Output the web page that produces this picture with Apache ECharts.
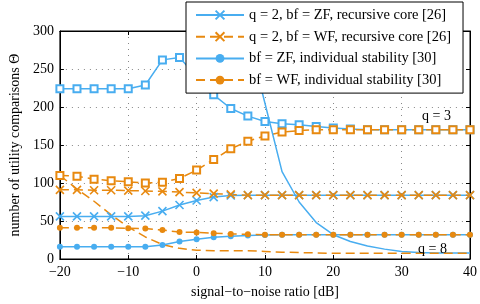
<!DOCTYPE html>
<html>
<head>
<meta charset="utf-8">
<script src="https://cdn.jsdelivr.net/npm/echarts@6/dist/echarts.min.js"></script>
<style>html,body{margin:0;padding:0;background:#fff}#c{width:480px;height:304px}</style>
</head>
<body>
<div id="c"></div>
<script>
var snr = [-20,-17.5,-15,-12.5,-10,-7.5,-5,-2.5,0,2.5,5,7.5,10,12.5,15,17.5,20,22.5,25,27.5,30,32.5,35,37.5,40];
var zfRecursive = [56,56,56,56,56,57,63,71,77,81.5,83.5,84,84,84,84,84,84,84,84,84,84,84,84,84,84];
var wfRecursive = [91,91,90.5,90.5,90,89.5,89,88,87,86,85,84,84,84,84,84,84,84,84,84,84,84,84,84,84];
var zfIndividual = [16,16,16,16,16,16,18.5,23,26,28.5,30,31,31.5,32,32,32,32,32,32,32,32,32,32,32,32];
var wfIndividual = [41,41,41,41,40.5,40,38,35.5,35,34,33,32.5,32,32,32,32,32,32,32,32,32,32,32,32,32];
var zfQ3 = [224,224,224,224,224,229,262,265,240,216,198,188,181,178,176.5,174.5,172.5,171,170,170,170,170,170,170,170];
var wfQ3 = [110,109,105,103,101.5,100,101,106,117,131,145,155,162,167,169,170,170,170,170,170,170,170,170,170,170];
var zfQ8 = [null,null,null,null,null,null,null,null,null,null,390,295,205,115,75,48,32,23,17,13,10,8.5,8,8,8];
var wfQ8 = [110,92,76,58,42,29,19,14,11.5,11,11,11,10,9,8.5,8,7.5,7.5,7.5,7.5,7.5,7.5,7.5,7.5,7.5];
var legendNames = ['q = 2, bf = ZF, recursive core [26]','q = 2, bf = WF, recursive core [26]','bf = ZF, individual stability [30]','bf = WF, individual stability [30]'];
var xTicks = [-20,-10,0,10,20,30,40];
var yTicks = [0,50,100,150,200,250,300];

var BLUE = '#48adf0', ORANGE = '#e8890f';
var FONT = 'Liberation Serif';
var CROSS = 'path://M0,0L10,10M10,0L0,10';

function pairs(arr){ return snr.map(function(x,i){ return [x, arr[i]]; }); }
function mk(name, data, color, dashed, symbol, size){
  return {
    name: name, type: 'line', data: pairs(data), clip: true,
    symbol: symbol, symbolSize: size, showSymbol: symbol !== 'none',
    connectNulls: false,
    lineStyle: {color: color, width: 1.5, type: dashed ? [9,5] : 'solid'},
    itemStyle: symbol === CROSS ? {color: color, borderColor: color, borderWidth: 1.6}
             : symbol === 'emptyRect' ? {color: color, borderColor: color, borderWidth: 1.5}
             : {color: color},
    emphasis: {disabled: true}, animation: false, z: 3
  };
}
function minus(v){ return String(v).replace('-', '\u2212'); }

var chart = echarts.init(document.getElementById('c'), null, {renderer: 'canvas'});
chart.setOption({
  animation: false,
  backgroundColor: '#fff',
  grid: {left: 52, right: 9, top: 31, bottom: 40, show: true, borderColor: '#000', borderWidth: 1, backgroundColor: 'transparent'},
  legend: {
    data: legendNames, orient: 'vertical', left: 186, top: 2,
    backgroundColor: '#fff', borderColor: '#000', borderWidth: 1,
    padding: [5, 12, 5, 9], itemWidth: 48, itemHeight: 11, itemGap: 5.7,
    textStyle: {fontFamily: FONT, fontSize: 14.5, lineHeight: 16, color: '#000'},
    selectedMode: false, z: 10
  },
  xAxis: [{
    type: 'value', min: -20, max: 40, interval: 10,
    name: 'signal\u2212to\u2212noise ratio [dB]', nameLocation: 'middle', nameGap: 26,
    nameTextStyle: {fontFamily: FONT, fontSize: 14, color: '#000'},
    axisLine: {show: true, onZero: false, lineStyle: {color: '#000'}},
    axisTick: {show: true, inside: true, length: 4, lineStyle: {color: '#000'}},
    axisLabel: {fontFamily: FONT, fontSize: 14, color: '#000', margin: 6,
      formatter: function(v){ return xTicks.indexOf(v) >= 0 ? minus(v) : ''; }},
    splitLine: {show: true, lineStyle: {color: '#888', type: [1, 5], width: 1}}
  },{
    type: 'value', position: 'top', min: -20, max: 40, interval: 10,
    axisLine: {show: true, onZero: false, lineStyle: {color: '#000'}},
    axisTick: {show: true, inside: true, length: 4, lineStyle: {color: '#000'}},
    axisLabel: {show: false}, splitLine: {show: false}
  }],
  yAxis: [{
    type: 'value', min: 0, max: 300, interval: 50,
    name: 'number of utility comparisons \u0398', nameLocation: 'middle', nameGap: 32,
    nameTextStyle: {fontFamily: FONT, fontSize: 14, color: '#000'},
    axisLine: {show: true, onZero: false, lineStyle: {color: '#000'}},
    axisTick: {show: true, inside: true, length: 4, lineStyle: {color: '#000'}},
    axisLabel: {fontFamily: FONT, fontSize: 14, color: '#000', margin: 6,
      formatter: function(v){ return yTicks.indexOf(v) >= 0 ? String(v) : ''; }},
    splitLine: {show: true, lineStyle: {color: '#888', type: [1, 5], width: 1}}
  },{
    type: 'value', position: 'right', min: 0, max: 300, interval: 50,
    axisLine: {show: true, onZero: false, lineStyle: {color: '#000'}},
    axisTick: {show: true, inside: true, length: 4, lineStyle: {color: '#000'}},
    axisLabel: {show: false}, splitLine: {show: false}
  }],
  graphic: [
    {type: 'text', left: 422, top: 109, style: {text: 'q = 3', font: '14px "Liberation Serif"', fill: '#000'}, z: 5},
    {type: 'text', left: 418, top: 242, style: {text: 'q = 8', font: '14px "Liberation Serif"', fill: '#000'}, z: 5}
  ],
  series: [
    mk('q3zf', zfQ3, BLUE, false, 'emptyRect', 7),
    mk('q3wf', wfQ3, ORANGE, true, 'emptyRect', 7),
    mk('q8zf', zfQ8, BLUE, false, 'none', 0),
    mk('q8wf', wfQ8, ORANGE, true, 'none', 0),
    mk(legendNames[0], zfRecursive, BLUE, false, CROSS, 8),
    mk(legendNames[1], wfRecursive, ORANGE, true, CROSS, 8),
    mk(legendNames[2], zfIndividual, BLUE, false, 'circle', 6),
    mk(legendNames[3], wfIndividual, ORANGE, true, 'circle', 6)
  ]
});
</script>
</body>
</html>
